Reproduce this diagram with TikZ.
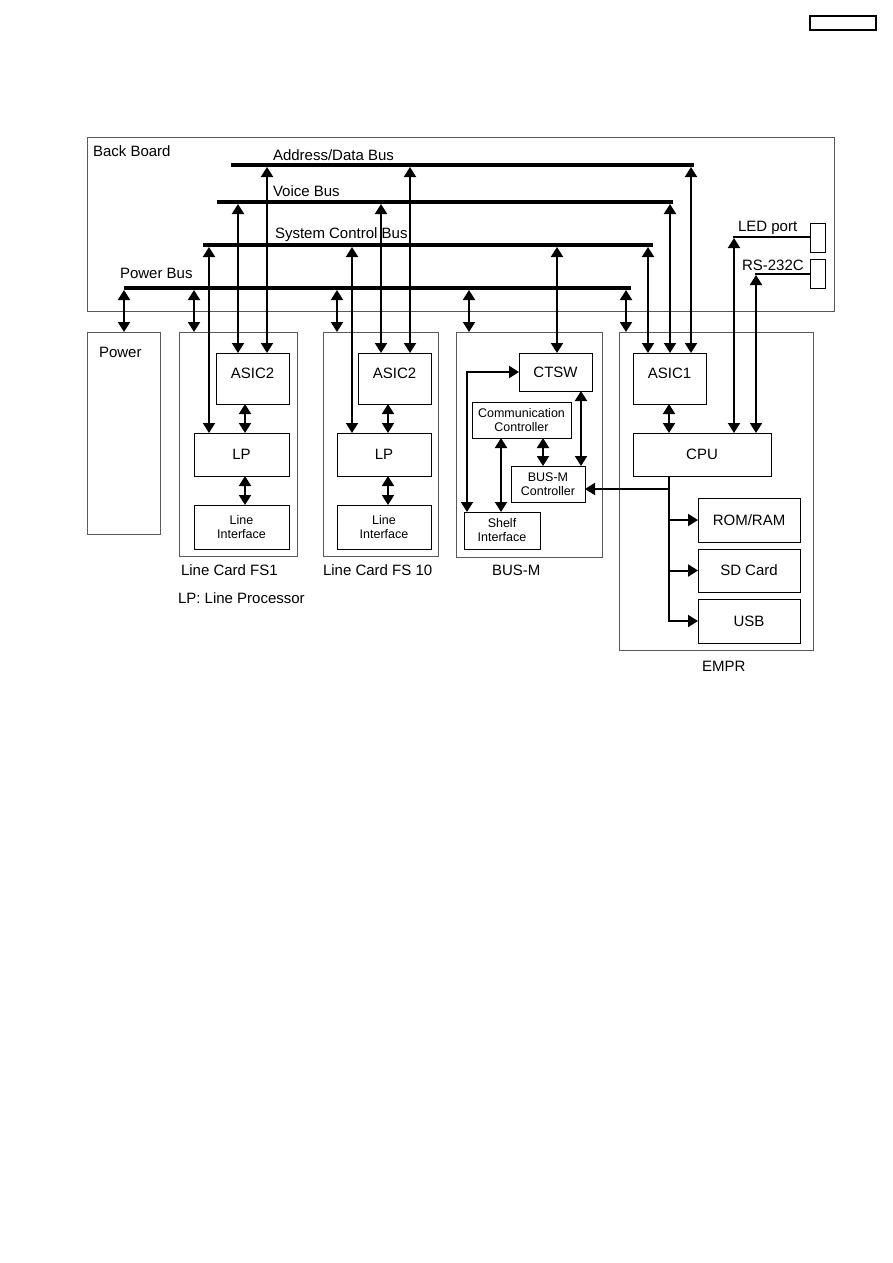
\documentclass[tikz,border=0pt]{standalone}
\usepackage{fontspec}
\setmainfont{Liberation Sans}
\usetikzlibrary{arrows.meta}
\begin{document}
\begin{tikzpicture}[x=1pt,y=-1pt,
  every node/.style={inner sep=0pt, outer sep=0pt, font=\fontsize{15}{18}\selectfont},
  blk/.style={draw, line width=1pt, anchor=north west, align=center},
  frm/.style={draw=black!65, line width=1pt, anchor=north west},
  sml/.style={font=\fontsize{12.5}{14}\selectfont},
  upper/.style={text depth=10pt},
  busbar/.style={fill=black, anchor=west, minimum height=4pt},
  conn/.style={line width=2pt},
  arr/.style={conn, -{Triangle[width=12pt,length=10pt]}},
  darr/.style={conn, {Triangle[width=12pt,length=10pt]}-{Triangle[width=12pt,length=10pt]}},
  txt/.style={anchor=base west}]
\useasboundingbox (0,0) rectangle (893,1263);

% page number box
\node[draw, line width=1.5pt, anchor=north west, minimum width=66pt, minimum height=14pt] (pg) at (810,16) {};

% back board
\node[frm, minimum width=747pt, minimum height=174pt] (bb) at (87,137) {};
\node[txt] (bbt) at (93,156) {Back Board};

% buses
\node[busbar, minimum width=463pt] (adbus) at (231,165) {};
\node[busbar, minimum width=456pt] (vbus) at (217,202) {};
\node[busbar, minimum width=450pt] (scbus) at (203,245) {};
\node[busbar, minimum width=507pt] (pbus) at (124,288) {};
\node[txt] (adt) at (273,160) {Address/Data Bus};
\node[txt] (vt) at (273,196) {Voice Bus};
\node[txt] (sct) at (275,238) {System Control Bus};
\node[txt] (pt) at (120,278) {Power Bus};

% ports
\node[draw, line width=1pt, anchor=north west, minimum width=15pt, minimum height=29pt] (led) at (810,223) {};
\node[draw, line width=1pt, anchor=north west, minimum width=15pt, minimum height=29pt] (rs) at (810,259) {};
\node[txt] (ledt) at (738,231) {LED port};
\node[txt] (rst) at (742,270) {RS-232C};

% power
\node[frm, minimum width=73pt, minimum height=202pt] (power) at (87,332) {};
\node[txt] (powt) at (99,357) {Power};

% line card FS1
\node[frm, minimum width=118pt, minimum height=224pt] (lc1) at (179,332) {};
\node[blk, upper, minimum width=73pt, minimum height=51pt] (a2a) at (216,353) {ASIC2};
\node[blk, minimum width=95pt, minimum height=43pt] (lpa) at (194,433) {LP};
\node[blk, sml, minimum width=95pt, minimum height=44pt] (lia) at (194,505) {Line\\Interface};
\node[txt] (lc1t) at (181,575) {Line Card FS1};
\node[txt] (lpnote) at (178,603) {LP: Line Processor};

% line card FS10
\node[frm, minimum width=115pt, minimum height=224pt] (lc10) at (323,332) {};
\node[blk, upper, minimum width=73pt, minimum height=51pt] (a2b) at (358,353) {ASIC2};
\node[blk, minimum width=94pt, minimum height=43pt] (lpb) at (337,433) {LP};
\node[blk, sml, minimum width=94pt, minimum height=44pt] (lib) at (337,505) {Line\\Interface};
\node[txt] (lc10t) at (323,575) {Line Card FS 10};

% BUS-M
\node[frm, minimum width=146pt, minimum height=225pt] (busm) at (456,332) {};
\node[blk, minimum width=73pt, minimum height=38pt] (ctsw) at (519,353) {CTSW};
\node[blk, sml, minimum width=99pt, minimum height=36pt] (comm) at (472,402) {Communication\\Controller};
\node[blk, sml, minimum width=74pt, minimum height=36pt] (bmc) at (511,466) {BUS-M\\Controller};
\node[blk, sml, minimum width=76pt, minimum height=37pt] (shelf) at (464,512) {Shelf\\Interface};
\node[txt] (busmt) at (492,575) {BUS-M};

% EMPR
\node[frm, minimum width=194pt, minimum height=318pt] (empr) at (619,332) {};
\node[blk, upper, minimum width=73pt, minimum height=51pt] (asic1) at (633,353) {ASIC1};
\node[blk, minimum width=138pt, minimum height=43pt] (cpu) at (633,433) {CPU};
\node[blk, minimum width=102pt, minimum height=44pt] (rom) at (698,498) {ROM/RAM};
\node[blk, minimum width=102pt, minimum height=43pt] (sd) at (698,549) {SD Card};
\node[blk, minimum width=102pt, minimum height=44pt] (usb) at (698,599) {USB};
\node[txt] (emprt) at (702,671) {EMPR};

% bus connections
\draw[darr] (adbus.south -| 267,0) -- (a2a.north -| 267,0);
\draw[darr] (adbus.south -| 410,0) -- (a2b.north -| 410,0);
\draw[darr] (adbus.south -| 691,0) -- (asic1.north -| 691,0);
\draw[darr] (vbus.south -| 238,0) -- (a2a.north -| 238,0);
\draw[darr] (vbus.south -| 381,0) -- (a2b.north -| 381,0);
\draw[darr] (vbus.south -| 670,0) -- (asic1.north -| 670,0);
\draw[darr] (scbus.south -| 209,0) -- (lpa.north -| 209,0);
\draw[darr] (scbus.south -| 352,0) -- (lpb.north -| 352,0);
\draw[darr] (scbus.south -| 557,0) -- (ctsw.north -| 557,0);
\draw[darr] (scbus.south -| 648,0) -- (asic1.north -| 648,0);
\draw[darr] (pbus.south -| 124,0) -- (power.north -| 124,0);
\draw[darr] (pbus.south -| 194,0) -- (lc1.north -| 194,0);
\draw[darr] (pbus.south -| 337,0) -- (lc10.north -| 337,0);
\draw[darr] (pbus.south -| 469,0) -- (busm.north -| 469,0);
\draw[darr] (pbus.south -| 626,0) -- (empr.north -| 626,0);

% line card internals
\draw[darr] (a2a.south -| 245,0) -- (lpa.north -| 245,0);
\draw[darr] (lpa.south -| 245,0) -- (lia.north -| 245,0);
\draw[darr] (a2b.south -| 388,0) -- (lpb.north -| 388,0);
\draw[darr] (lpb.south -| 388,0) -- (lib.north -| 388,0);

% BUS-M internals
\draw[darr] (shelf.north -| 467,0) |- (ctsw.west);
\draw[darr] (comm.south -| 501,0) -- (shelf.north -| 501,0);
\draw[darr] (comm.south -| 543,0) -- (bmc.north -| 543,0);
\draw[darr] (ctsw.south -| 581,0) -- (bmc.north -| 581,0);

% EMPR internals
\draw[darr] (asic1.south -| 669,0) -- (cpu.north -| 669,0);
\coordinate (cpuj) at (669,489);
\coordinate (cpub) at (669,622);
\draw[conn] (cpu.south -| cpuj) -- (cpub);
\draw[arr] (cpuj) -- (bmc.east |- cpuj);
\draw[arr] (rom.west -| cpuj) -- (rom.west);
\draw[arr] (sd.west -| cpuj) -- (sd.west);
\draw[arr] (usb.west -| cpuj) -- (usb.west);

% ports to CPU
\coordinate (ledc) at (734,237);
\coordinate (rsc) at (756,274);
\draw[conn] (led.west |- ledc) -- ([xshift=-1pt]ledc);
\draw[conn] (rs.west |- rsc) -- ([xshift=-1pt]rsc);
\draw[darr] ([yshift=-1pt]ledc) -- (cpu.north -| ledc);
\draw[darr] ([yshift=-1pt]rsc) -- (cpu.north -| rsc);
\end{tikzpicture}
\end{document}
